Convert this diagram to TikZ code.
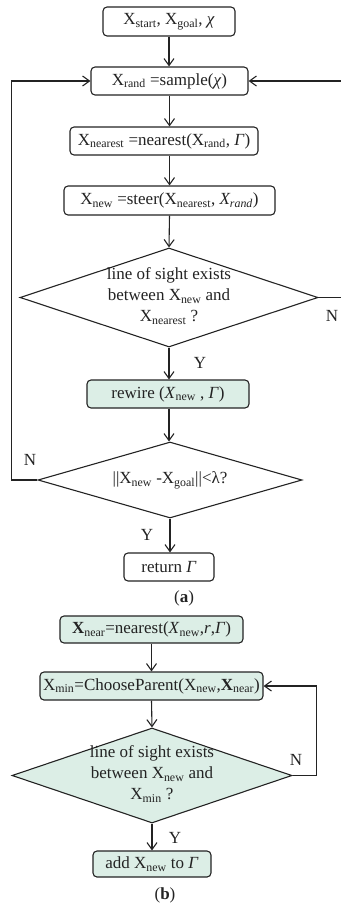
\documentclass[tikz,border=0pt]{standalone}
\usepackage{fontspec}
\setmainfont{Liberation Serif}
\usetikzlibrary{arrows.meta,shapes.geometric}
\definecolor{mint}{RGB}{220,238,230}
\definecolor{ink}{RGB}{35,35,35}
\newcommand{\Xsub}[1]{X\textsubscript{#1}}
\newcommand{\Xisub}[1]{\textit{X}\textsubscript{#1}}
\begin{document}
\begin{tikzpicture}[x=1pt,y=-1pt,
  every node/.style={font=\fontsize{17}{21}\selectfont, text=ink},
  stepbox/.style={draw=ink, line width=1.1pt, rounded corners=4pt, inner sep=0pt, fill=white},
  greenbox/.style={stepbox, fill=mint},
  decision/.style={draw=ink, line width=1.1pt, shape=diamond, inner sep=0pt, fill=white},
  arr/.style={draw=ink, line width=1.1pt, -{Straight Barb[length=7pt,width=10pt]}},
  lbl/.style={inner sep=0pt}]
\useasboundingbox (0,0) rectangle (340,907);

% --- (a) main loop ---
\node[stepbox, minimum width=132pt, minimum height=29pt] (b1) at (169,21.5)
  {\Xsub{start}, \Xsub{goal},\ \textit{χ}};
\node[stepbox, minimum width=157pt, minimum height=28pt] (b2) at (169.5,81)
  {\Xsub{rand} =sample(\textit{χ})};
\node[stepbox, minimum width=188pt, minimum height=28pt] (b3) at (164,141)
  {\Xsub{nearest} =nearest(\Xsub{rand}, \textit{Γ})};
\node[stepbox, minimum width=211pt, minimum height=29pt] (b4) at (169.5,200.5)
  {\Xsub{new} =steer(\Xsub{nearest}, \textit{X\textsubscript{rand}})};
\node[decision, minimum width=298pt, minimum height=99pt] (d1) at (169,297.5) {};
\node[lbl, align=center] (d1t) at (169,296)
  {line of sight exists\\between \Xsub{new} and\\\Xsub{nearest} ?};
\node[greenbox, minimum width=162pt, minimum height=28pt] (b5) at (168,394)
  {rewire (\Xisub{new} , \textit{Γ})};
\node[decision, minimum width=264pt, minimum height=76pt] (d2) at (170,480) {};
\node[lbl] (d2t) at (170,480)
  {||\Xsub{new} -\Xsub{goal}||<λ?};
\node[stepbox, minimum width=90pt, minimum height=28pt] (b6) at (169,567)
  {return \textit{Γ}};
\node[lbl] (capa) at (184,598) {(\textbf{a})};

\draw[arr] (b1.south) -- (b1.south |- b2.north);
\draw[arr] (b2.south) -- (b2.south |- b3.north);
\draw[arr] (b2.south |- b3.south) -- (b2.south |- b4.north);
\draw[arr] (b4.south) -- (d1.north);
\draw[arr] (d1.south) -- (d1.south |- b5.north);
\draw[arr] (d1.south |- b5.south) -- (d1.south |- d2.north);
\draw[arr] (d2.south) -- (d2.south |- b6.north);
\draw[arr] (d2.west) -- ++(-26,0) |- (b2.west);
\draw[arr] (d1.east) -- ++(32,0) |- (b2.east);

\node[lbl] (n1) at (332,316) {N};
\node[lbl] (y1) at (200,363) {Y};
\node[lbl] (n2) at (30,460) {N};
\node[lbl] (y2) at (147,535) {Y};

% --- (b) parent selection ---
\node[greenbox, minimum width=183pt, minimum height=27pt] (b7) at (151.5,629.5)
  {\textbf{X}\textsubscript{near}=nearest(\Xisub{new},\textit{r},\textit{Γ})};
\node[greenbox, minimum width=223pt, minimum height=28pt] (b8) at (151.5,686)
  {\Xsub{min}=ChooseParent(\Xsub{new},\textbf{X}\textsubscript{near})};
\node[decision, fill=mint, minimum width=280pt, minimum height=95pt] (d3) at (152,775.5) {};
\node[lbl, align=center] (d3t) at (152,774)
  {line of sight exists\\between \Xsub{new} and\\\Xsub{min} ?};
\node[greenbox, minimum width=118pt, minimum height=26pt] (b9) at (152,864)
  {add \Xsub{new} to \textit{Γ}};
\node[lbl] (capb) at (165,895) {(\textbf{b})};

\draw[arr] (b7.south) -- (b7.south |- b8.north);
\draw[arr] (b8.south) -- (d3.north);
\draw[arr] (d3.south) -- (d3.south |- b9.north);
\draw[arr] (d3.east) -- ++(24,0) |- (b8.east);

\node[lbl] (n3) at (296,760) {N};
\node[lbl] (y3) at (175,838) {Y};
\end{tikzpicture}
\end{document}
